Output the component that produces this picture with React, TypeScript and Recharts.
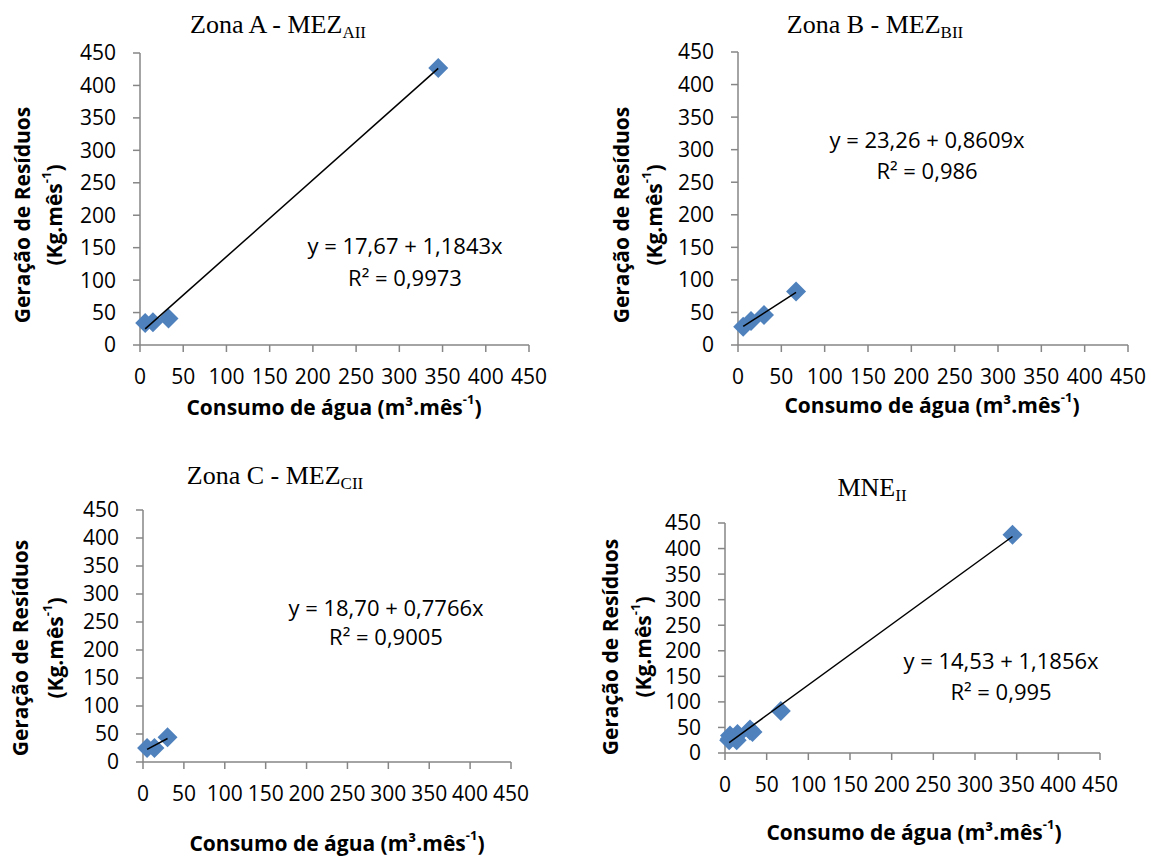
import React from 'react';
import { ScatterChart, Scatter, XAxis, YAxis } from 'recharts';

// ---------- data ----------
const xTicks = [0, 50, 100, 150, 200, 250, 300, 350, 400, 450];
const yTicks = [0, 50, 100, 150, 200, 250, 300, 350, 400, 450];

const zoneAX = [6, 15, 33, 345];
const zoneAY = [34, 35, 41, 427];

const zoneBX = [6, 15, 30, 67];
const zoneBY = [28, 37, 46, 82];

const zoneCX = [5, 14, 30];
const zoneCY = [25, 25, 44];

const mneX = [6, 15, 33, 345, 6, 15, 30, 67, 5, 14, 30];
const mneY = [34, 35, 41, 427, 28, 37, 46, 82, 25, 25, 44];

const intercepts = [17.67, 23.26, 18.7, 14.53];
const slopes = [1.1843, 0.8609, 0.7766, 1.1856];

const titleMain = ['Zona A - MEZ', 'Zona B - MEZ', 'Zona C - MEZ', 'MNE'];
const titleSub = ['AII', 'BII', 'CII', 'II'];
const equations = ['y = 17,67 + 1,1843x', 'y = 23,26 + 0,8609x', 'y = 18,70 + 0,7766x', 'y = 14,53 + 1,1856x'];
const r2Labels = ['R² = 0,9973', 'R² = 0,986', 'R² = 0,9005', 'R² = 0,995'];

const xTitle = 'Consumo de água (m³.mês';
const yTitle1 = 'Geração de Resíduos';
const yTitle2 = '(Kg.mês';
const supText = '-1';

// ---------- layout ----------
const layouts = [
  { left: 0, top: 0, w: 580, h: 430, m: { top: 53, left: 40, right: 51, bottom: 45 },
    title: [278, 33], eq: [405, 245, 277], xt: [334, 407], yt: [22, 54, 215] },
  { left: 580, top: 0, w: 579, h: 430, m: { top: 52, left: 58, right: 31, bottom: 45 },
    title: [875, 33], eq: [927, 139, 170], xt: [932, 405], yt: [621, 654, 215] },
  { left: 0, top: 430, w: 580, h: 427, m: { top: 80, left: 43, right: 69, bottom: 55 },
    title: [275, 484], eq: [386, 607, 636], xt: [337, 843], yt: [20, 55, 648] },
  { left: 580, top: 430, w: 579, h: 427, m: { top: 93, left: 45, right: 59, bottom: 64 },
    title: [872, 496], eq: [1001, 660, 691], xt: [914, 832], yt: [610, 643, 647] },
];

const series = [
  [zoneAX, zoneAY],
  [zoneBX, zoneBY],
  [zoneCX, zoneCY],
  [mneX, mneY],
];

const AXIS_COLOR = '#868686';
const MARKER = '#4F81BD';
const SANS = '"Open Sans", "Noto Sans", sans-serif';
const SERIF = '"Liberation Serif", "Times New Roman", serif';

const Diamond = (props: any) => {
  const { cx, cy } = props;
  if (cx == null || cy == null) return null;
  const r = 10;
  return <path d={`M${cx},${cy - r}L${cx + r},${cy}L${cx},${cy + r}L${cx - r},${cy}Z`} fill={MARKER} />;
};

const NoShape = () => <g />;

const tickStyle = { fill: '#000', fontSize: 21, fontFamily: SANS };

function Panel({ idx }: { idx: number }) {
  const L = layouts[idx];
  const [xs, ys] = series[idx];
  const data = xs.map((x, i) => ({ x, y: ys[i] }));
  const xMin = Math.min(...xs);
  const xMax = Math.max(...xs);
  const a = intercepts[idx];
  const b = slopes[idx];
  const trend = [
    { x: xMin, y: a + b * xMin },
    { x: xMax, y: a + b * xMax },
  ];
  return (
    <div style={{ position: 'absolute', left: L.left, top: L.top, width: L.w, height: L.h }}>
      <ScatterChart width={L.w} height={L.h} margin={L.m}>
        <XAxis
          type="number"
          dataKey="x"
          domain={[0, 450]}
          ticks={xTicks}
          interval={0}
          height={40}
          tick={tickStyle}
          tickSize={7}
          tickMargin={17}
          axisLine={{ stroke: AXIS_COLOR, strokeWidth: 1.5 }}
          tickLine={{ stroke: AXIS_COLOR, strokeWidth: 1.5 }}
        />
        <YAxis
          type="number"
          dataKey="y"
          domain={[0, 450]}
          ticks={yTicks}
          interval={0}
          width={100}
          tick={tickStyle}
          tickSize={7}
          tickMargin={17}
          axisLine={{ stroke: AXIS_COLOR, strokeWidth: 1.5 }}
          tickLine={{ stroke: AXIS_COLOR, strokeWidth: 1.5 }}
        />
        <Scatter data={data} shape={<Diamond />} isAnimationActive={false} />
        <Scatter
          data={trend}
          line={{ stroke: '#000', strokeWidth: 1.5 }}
          lineType="joint"
          shape={<NoShape />}
          isAnimationActive={false}
        />
      </ScatterChart>
    </div>
  );
}

function Texts({ idx }: { idx: number }) {
  const L = layouts[idx];
  return (
    <g>
      <text x={L.title[0]} y={L.title[1]} textAnchor="middle" fontFamily={SERIF} fontSize={26} fill="#000">
        {titleMain[idx]}
        <tspan fontSize={17} dy={5}>{titleSub[idx]}</tspan>
      </text>
      <text x={L.eq[0]} y={L.eq[1]} textAnchor="middle" dominantBaseline="central" fontFamily={SANS} fontSize={22} fill="#000">
        {equations[idx]}
      </text>
      <text x={L.eq[0]} y={L.eq[2]} textAnchor="middle" dominantBaseline="central" fontFamily={SANS} fontSize={22} fill="#000">
        {r2Labels[idx]}
      </text>
      <text x={L.xt[0]} y={L.xt[1]} textAnchor="middle" dominantBaseline="central" fontFamily={SANS} fontWeight="bold" fontSize={21} fill="#000">
        {xTitle}
        <tspan fontSize={13} dy={-8}>{supText}</tspan>
        <tspan dy={8}>)</tspan>
      </text>
      <text
        x={L.yt[0]}
        y={L.yt[2]}
        transform={`rotate(-90 ${L.yt[0]} ${L.yt[2]})`}
        textAnchor="middle"
        dominantBaseline="central"
        fontFamily={SANS}
        fontWeight="bold"
        fontSize={21}
        fill="#000"
      >
        {yTitle1}
      </text>
      <text
        x={L.yt[1]}
        y={L.yt[2]}
        transform={`rotate(-90 ${L.yt[1]} ${L.yt[2]})`}
        textAnchor="middle"
        dominantBaseline="central"
        fontFamily={SANS}
        fontWeight="bold"
        fontSize={21}
        fill="#000"
      >
        {yTitle2}
        <tspan fontSize={13} dy={-8}>{supText}</tspan>
        <tspan dy={8}>)</tspan>
      </text>
    </g>
  );
}

export default function App() {
  return (
    <div style={{ position: 'absolute', left: 0, top: 0, width: 1159, height: 857, background: '#fff', overflow: 'hidden' }}>
      {[0, 1, 2, 3].map((i) => (
        <Panel key={i} idx={i} />
      ))}
      <svg width={1159} height={857} style={{ position: 'absolute', left: 0, top: 0, pointerEvents: 'none' }}>
        {[0, 1, 2, 3].map((i) => (
          <Texts key={i} idx={i} />
        ))}
      </svg>
    </div>
  );
}
